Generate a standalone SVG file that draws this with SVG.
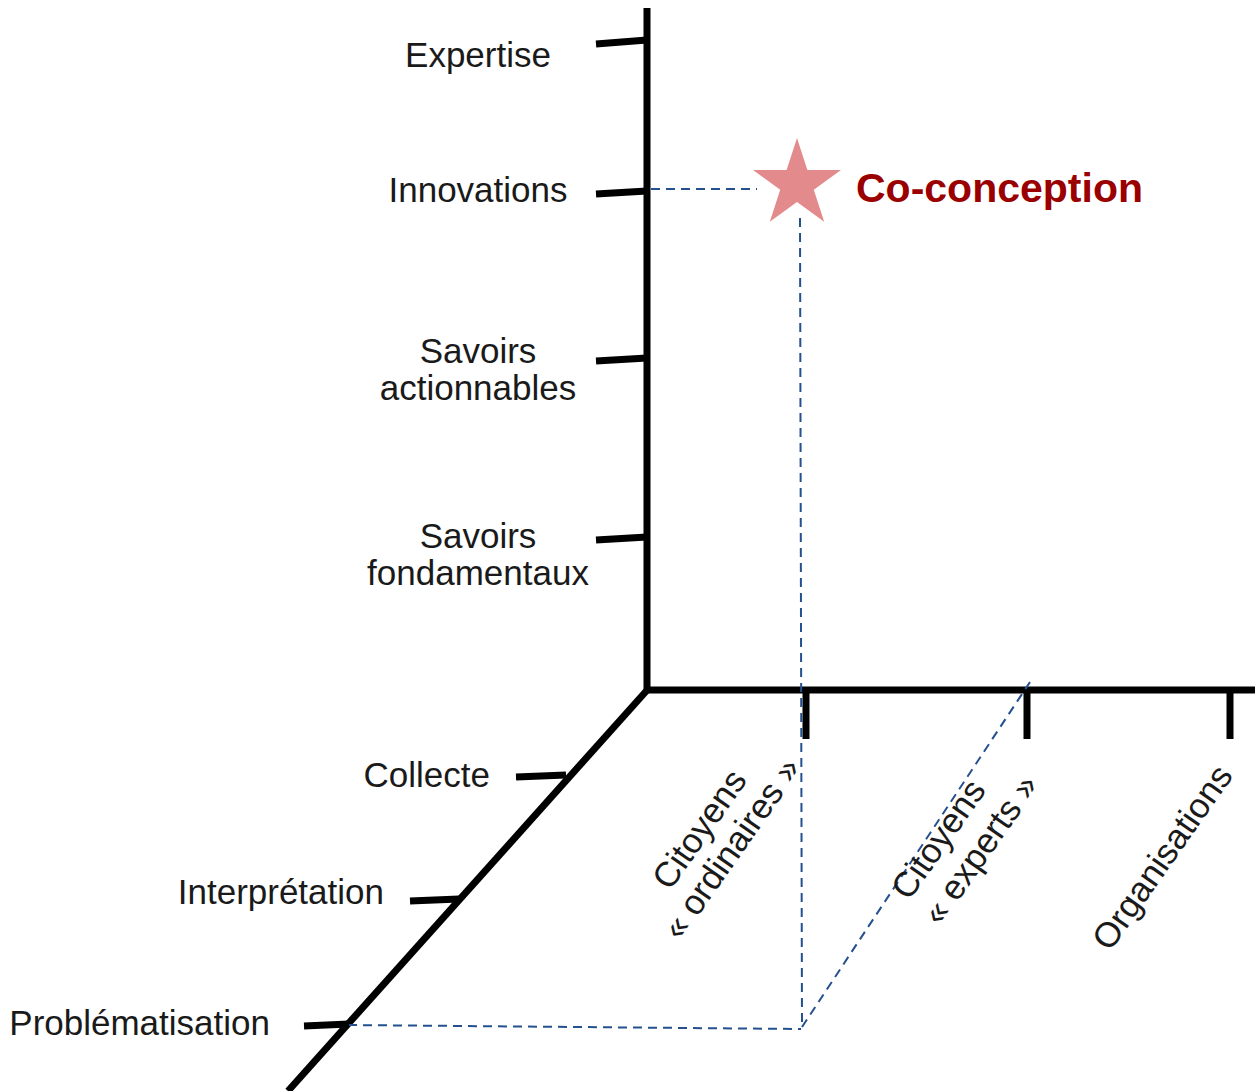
<svg xmlns="http://www.w3.org/2000/svg" width="1255" height="1091" viewBox="0 0 1255 1091">
  <style>
    .axis { stroke: #000; stroke-width: 7; fill: none; stroke-linecap: butt; }
    .tick { stroke: #000; stroke-width: 7; fill: none; }
    .dash { stroke: #24508f; stroke-width: 2; fill: none; stroke-dasharray: 9 6; }
    .lbl { font-family: "Liberation Sans", Arial, sans-serif; font-size: 35px; fill: #1a1a1a; }
    .mid { text-anchor: middle; }
    .end { text-anchor: end; }
    .title { font-family: "Liberation Sans", Arial, sans-serif; font-weight: bold; font-size: 41px; fill: #9a0000; }
  </style>
  <rect width="1255" height="1091" fill="#fff"/>

  <g id="axes">
    <line class="axis" x1="647" y1="8" x2="647" y2="693"/>
    <line class="axis" x1="644" y1="690" x2="1255" y2="690"/>
    <line class="axis" x1="649" y1="688" x2="288" y2="1091"/>
  </g>

  <g id="connectors">
    <line class="dash" x1="651" y1="189" x2="757" y2="189"/>
    <line class="dash" x1="800" y1="218" x2="802" y2="1028"/>
    <line class="dash" x1="348" y1="1025" x2="801" y2="1029"/>
    <line class="dash" x1="802" y1="1027" x2="1030" y2="682"/>
  </g>

  <g id="node-expertise">
    <line class="tick" x1="596" y1="44" x2="647" y2="40"/>
    <text class="lbl mid" x="478" y="67">Expertise</text>
  </g>
  <g id="node-innovations">
    <line class="tick" x1="596" y1="194" x2="647" y2="191"/>
    <text class="lbl mid" x="478" y="202">Innovations</text>
  </g>
  <g id="node-savoirs-actionnables">
    <line class="tick" x1="596" y1="361" x2="647" y2="358"/>
    <text class="lbl mid" x="478" y="363">Savoirs</text>
    <text class="lbl mid" x="478" y="400">actionnables</text>
  </g>
  <g id="node-savoirs-fondamentaux">
    <line class="tick" x1="596" y1="540" x2="647" y2="537"/>
    <text class="lbl mid" x="478" y="548">Savoirs</text>
    <text class="lbl mid" x="478" y="585">fondamentaux</text>
  </g>

  <g id="node-collecte">
    <line class="tick" x1="516" y1="777" x2="566" y2="775"/>
    <text class="lbl end" x="490" y="787">Collecte</text>
  </g>
  <g id="node-interpretation">
    <line class="tick" x1="410" y1="901" x2="459" y2="899"/>
    <text class="lbl end" x="384" y="904">Interprétation</text>
  </g>
  <g id="node-problematisation">
    <line class="tick" x1="304" y1="1026" x2="349" y2="1024"/>
    <text class="lbl end" x="270" y="1035">Problématisation</text>
  </g>

  <g id="node-citoyens-ordinaires">
    <line class="tick" x1="806" y1="690" x2="806" y2="739"/>
    <text class="lbl mid" transform="translate(709,836) rotate(-55)">Citoyens</text>
    <text class="lbl mid" transform="translate(741,855) rotate(-55)">« ordinaires »</text>
  </g>
  <g id="node-citoyens-experts">
    <line class="tick" x1="1027" y1="690" x2="1027" y2="739"/>
    <text class="lbl mid" transform="translate(948,846) rotate(-55)">Citoyens</text>
    <text class="lbl mid" transform="translate(990,856) rotate(-55)">« experts »</text>
  </g>
  <g id="node-organisations">
    <line class="tick" x1="1230" y1="690" x2="1230" y2="739"/>
    <text class="lbl mid" transform="translate(1172,864) rotate(-55)">Organisations</text>
  </g>

  <g id="node-co-conception">
    <polygon fill="#e38b8c" points="797,138 807.4,170 841,170 813.8,189.8 824.2,221.8 797,202 769.8,221.8 780.2,189.8 753,170 786.6,170"/>
    <text class="title" x="856" y="202">Co-conception</text>
  </g>
</svg>
